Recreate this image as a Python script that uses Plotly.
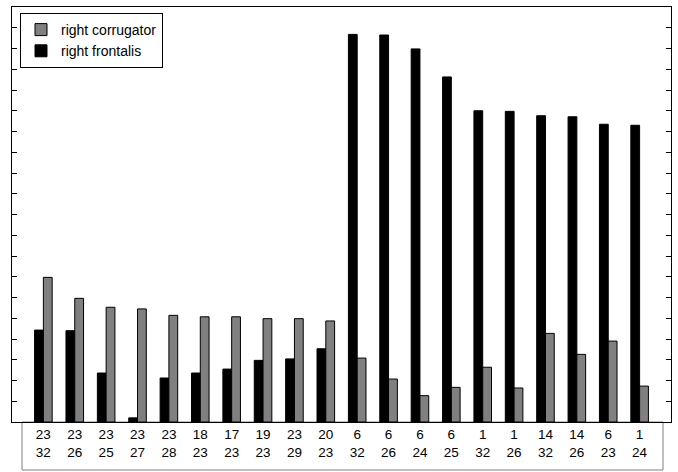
import plotly.graph_objects as go

groups = list(range(1, 21))
top_labels = ["23", "23", "23", "23", "23", "18", "17", "19", "23", "20",
              "6", "6", "6", "6", "1", "1", "14", "14", "6", "1"]
bottom_labels = ["32", "26", "25", "27", "28", "23", "23", "23", "29", "23",
                 "32", "26", "24", "25", "32", "26", "32", "26", "23", "24"]
tick_text = [f"{a}<br>{b}" for a, b in zip(top_labels, bottom_labels)]

right_frontalis = [4.43, 4.40, 2.36, 0.20, 2.12, 2.36, 2.55, 2.97, 3.04, 3.53,
                   18.68, 18.65, 17.98, 16.63, 15.00, 14.97, 14.76, 14.71, 14.35, 14.30]
right_corrugator = [6.97, 5.96, 5.53, 5.45, 5.14, 5.07, 5.07, 4.98, 4.98, 4.87,
                    3.08, 2.07, 1.27, 1.67, 2.64, 1.64, 4.27, 3.26, 3.90, 1.73]

fig = go.Figure()
fig.add_trace(go.Bar(x=groups, y=right_frontalis, name="right frontalis",
                     marker=dict(color="#000000", line=dict(color="#000000", width=1))))
fig.add_trace(go.Bar(x=groups, y=right_corrugator, name="right corrugator",
                     marker=dict(color="#808080", line=dict(color="#000000", width=1))))

W, H = 678, 472
ml, mr, mt, mb = 12, 7, 7, 50
pw, ph = W - ml - mr, H - mt - mb

# label box below the axis
fig.add_shape(type="rect", xref="paper", yref="paper",
              x0=(22 - ml) / pw, x1=(663 - ml) / pw,
              y0=-(470 - (H - mb)) / ph, y1=0,
              line=dict(color="#808080", width=1), layer="below")

fig.update_layout(
    width=W, height=H,
    margin=dict(l=ml, r=mr, t=mt, b=mb, autoexpand=False),
    paper_bgcolor="white", plot_bgcolor="white",
    barmode="group", bargap=0.44, bargroupgap=0,
    font=dict(family="Liberation Sans, Arial, sans-serif", color="black", size=13),
    showlegend=True,
    legend=dict(x=(20 - ml) / pw, y=1 - (13 - mt) / ph, xanchor="left", yanchor="top",
                traceorder="reversed", bgcolor="white", bordercolor="black", borderwidth=1,
                font=dict(size=14), tracegroupgap=0, itemwidth=30),
    xaxis=dict(range=[0, 21], tickmode="array", tickvals=groups, ticktext=tick_text,
               showline=True, linecolor="black", linewidth=1, mirror=True,
               ticks="", showgrid=False, zeroline=False, tickfont=dict(size=13.5),
               automargin=False),
    yaxis=dict(range=[0, 20], dtick=1, showticklabels=False, ticks="inside",
               ticklen=5, tickcolor="black", showline=True, linecolor="black",
               linewidth=1, mirror="ticks", showgrid=False, zeroline=False,
               automargin=False),
)

fig.write_html("out.html", config={"displayModeBar": False},
               post_script="document.body.style.margin='0';document.body.style.overflow='hidden';")
